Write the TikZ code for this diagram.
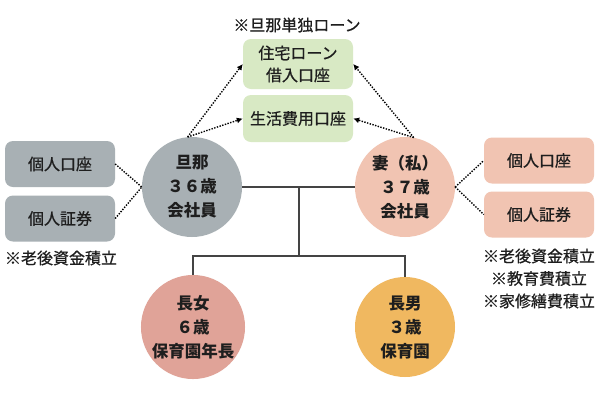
\documentclass[tikz,border=0pt]{standalone}
\usepackage{fontspec}
\setmainfont{Noto Sans CJK JP}
\newfontfamily\medfont{Noto Sans CJK JP}[FakeBold=0.7]
\usetikzlibrary{arrows.meta}
\definecolor{hgray}{HTML}{A8B0B4}
\definecolor{wpink}{HTML}{F1C4B2}
\definecolor{dpink}{HTML}{E0A398}
\definecolor{sorange}{HTML}{F0B860}
\definecolor{bgreen}{HTML}{D8E9C4}
\definecolor{txt}{HTML}{1E1E1E}
\definecolor{treeline}{HTML}{444444}
\tikzset{
  person/.style={circle, minimum size=100pt, inner sep=0pt, align=center, text=txt,
    font=\fontsize{16.5}{24}\selectfont\bfseries},
  acct/.style={rounded corners=8pt, minimum width=110pt, minimum height=46pt, inner sep=0pt,
    align=center, text=txt, font=\medfont\fontsize{16}{22}\selectfont},
  note/.style={text=txt, font=\medfont\fontsize{16}{22.5}\selectfont, align=center, inner sep=0pt},
  dotarrow/.style={line width=1.4pt, dash pattern=on 1.4pt off 1.4pt, -{Latex[length=6pt,width=6pt]}},
  dotline/.style={line width=1.4pt, dash pattern=on 1.4pt off 1.4pt},
  tree/.style={line width=1.2pt, draw=treeline}
}
\begin{document}
\begin{tikzpicture}[x=1pt,y=-1pt]
\useasboundingbox[fill=white] (0,0) rectangle (600,400);
% people
\node[person, fill=hgray] (h) at (192,187) {旦那\\３６歳\\会社員};
\node[person, fill=wpink] (w) at (405,187) {妻（私）\\３７歳\\会社員};
\node[person, fill=dpink] (d) at (193,327) {長女\\６歳\\保育園年長};
\node[person, fill=sorange] (s) at (405,327) {長男\\３歳\\保育園};
% accounts
\node[acct, fill=hgray] (hk) at (60,164) {個人口座};
\node[acct, fill=hgray] (hs) at (60,218.5) {個人証券};
\node[acct, fill=wpink] (wk) at (539,160.5) {個人口座};
\node[acct, fill=wpink] (ws) at (539,214.5) {個人証券};
\node[acct, fill=bgreen, minimum height=50pt] (loan) at (298,64) {住宅ローン\\借入口座};
\node[acct, fill=bgreen, minimum height=47pt] (life) at (298,118.5) {生活費用口座};
% notes
\node[note] (n1) at (297,25) {※旦那単独ローン};
\node[note] (n2) at (61,258) {※老後資金積立};
\node[note] (n3) at (539,256) {※老後資金積立};
\node[note] (n4) at (539,278.5) {※教育費積立};
\node[note] (n5) at (539,301) {※家修繕費積立};
% dotted connectors
\draw[dotline] (hk.east) -- (h.west);
\draw[dotline] (hs.east) -- (h.west);
\draw[dotline] (w.east) -- (wk.west);
\draw[dotline] (w.east) -- (ws.west);
\draw[dotarrow] (h.95) -- (loan.west);
\draw[dotarrow] (h.95) -- (life.west);
\draw[dotarrow] (w.80) -- (loan.east);
\draw[dotarrow] (w.80) -- (life.east);
% family tree
\coordinate (j1) at (299,187);
\coordinate (j2) at (299,256);
\draw[tree] (h.east) -- (w.west);
\draw[tree] (j1) -- (j2);
\draw[tree] (d.north) |- (j2);
\draw[tree] (s.north) |- (j2);
\end{tikzpicture}
\end{document}
